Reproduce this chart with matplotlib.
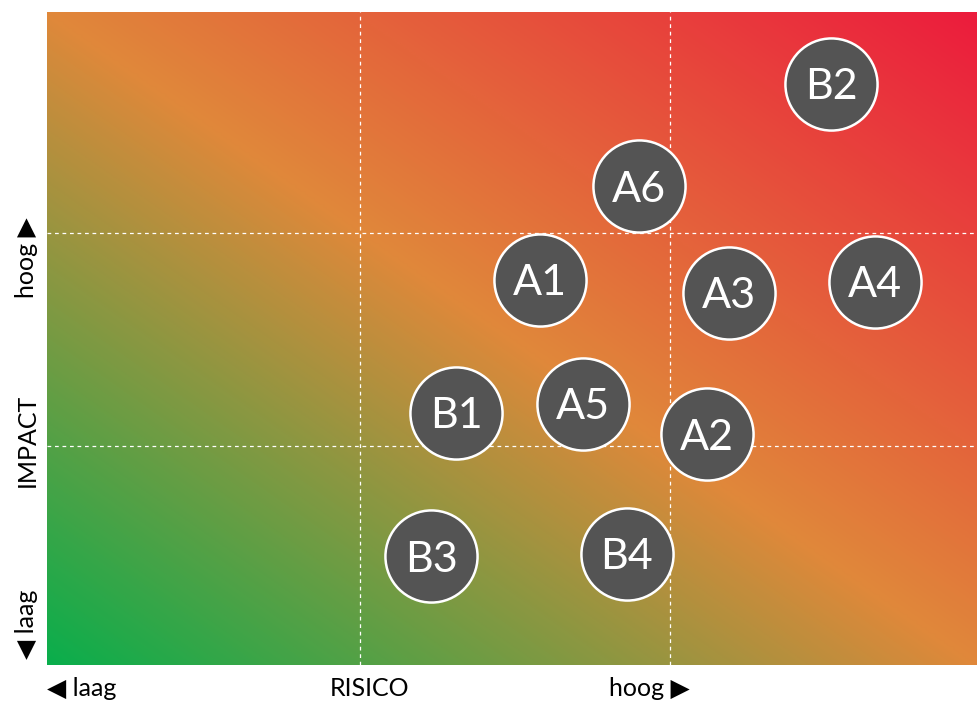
import numpy as np
import matplotlib
matplotlib.use("Agg")
import matplotlib.pyplot as plt
from matplotlib.colors import LinearSegmentedColormap

plt.rcParams['font.family'] = ['Lato', 'DejaVu Sans']

# Data (risico, impact) on a 0-3 scale
labels = ["B2", "A6", "A1", "A3", "A4", "B1", "A5", "A2", "B3", "B4"]
risico = [2.53, 1.91, 1.59, 2.20, 2.67, 1.32, 1.73, 2.13, 1.24, 1.87]
impact = [2.67, 2.20, 1.77, 1.71, 1.76, 1.16, 1.20, 1.06, 0.50, 0.51]
grid_x = [1.01, 2.01]
grid_y = [1.005, 1.985]

fig = plt.figure(figsize=(9.77, 7.02), dpi=100)
ax = fig.add_axes([47/977, 37/702, 930/977, 653/702])

# diagonal gradient background
n = 400
u = np.linspace(0, 1, n)
U, V = np.meshgrid(u, u)
T = (U + V) / 2
cmap = LinearSegmentedColormap.from_list(
    "risk", [(0.0, "#0aae4c"), (0.5, "#e0883a"), (1.0, "#ec1c3d")])
ax.imshow(T, cmap=cmap, origin="lower", extent=[0, 3, 0, 3],
          aspect="auto", interpolation="bilinear", zorder=0)

for g in grid_x:
    ax.axvline(g, color="white", lw=0.9, ls=(0, (3, 3)), zorder=1)
for g in grid_y:
    ax.axhline(g, color="white", lw=0.9, ls=(0, (3, 3)), zorder=1)

ax.scatter(risico, impact, s=4400, c="#545454", edgecolors="white",
           linewidths=1.8, zorder=3)
for lab, x, y in zip(labels, risico, impact):
    ax.text(x, y, lab, color="white", fontsize=31, ha="center",
            va="center_baseline", zorder=4)

ax.set_xlim(0, 3)
ax.set_ylim(0, 3)
ax.set_xticks([])
ax.set_yticks([])
for s in ax.spines.values():
    s.set_visible(False)

fs = 18
fig.text(47/977, 1 - 689/702, "◀ laag", fontsize=fs, ha="left", va="center")
fig.text(369/977, 1 - 689/702, "RISICO", fontsize=fs, ha="center", va="center")
fig.text(690/977, 1 - 689/702, "hoog ▶", fontsize=fs, ha="right", va="center")

fig.text(27/977, 1 - 258/702, "hoog ▶", fontsize=fs, ha="center", va="center", rotation=90)
fig.text(27/977, 1 - 440/702, "IMPACT", fontsize=fs, ha="center", va="center", rotation=90)
fig.text(27/977, 1 - 624/702, "◀ laag", fontsize=fs, ha="center", va="center", rotation=90)

fig.savefig("out.png", dpi=100)
